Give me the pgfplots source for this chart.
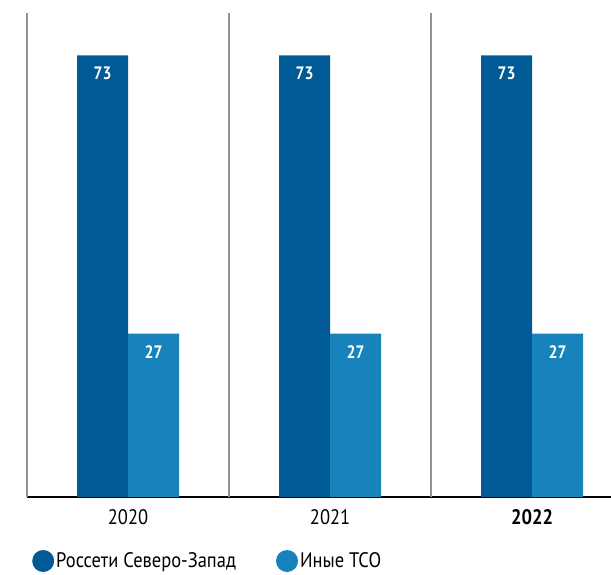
\documentclass[border=0pt]{standalone}
\usepackage{fontspec}
\setmainfont{PT Sans}[FakeStretch=0.88]
\usepackage{pgfplots}
\pgfplotsset{compat=1.18}
\definecolor{rsdark}{RGB}{0,90,150}
\definecolor{rslight}{RGB}{23,130,188}
\begin{document}
\begin{tikzpicture}
\path[use as bounding box] (-27pt,-77pt) rectangle (584pt,497pt);
\begin{axis}[
  at={(0pt,0pt)}, anchor=south west,
  scale only axis,
  width=584pt, height=484pt,
  ybar=0pt, bar width=51pt,
  ymin=0, ymax=80,
  xmin=-0.5, xmax=2.39,
  xtick={0,1,2},
  xticklabels={2020,2021,\textbf{2022}},
  xticklabel style={font=\fontsize{21}{23}\selectfont, yshift=-9pt},
  major tick length=0pt,
  ytick=\empty,
  axis y line=none,
  axis x line*=bottom,
  axis line style={black, line width=1.3pt, -},
  extra x ticks={-0.5,0.5,1.5},
  extra x tick labels={},
  extra x tick style={grid=major, major grid style={gray!85, line width=1.5pt}},
  clip=false,
  /pgf/number format/assume math mode=true,
  nodes near coords,
  every node near coord/.append style={anchor=north, yshift=-8pt, text=white, font=\bfseries\fontsize{18}{20}\selectfont},
  legend columns=2,
  legend style={at={(2pt,-64pt)}, anchor=west, draw=none, fill=none,
    font=\fontsize{21}{23}\selectfont,
    /tikz/every even column/.append style={column sep=38pt}},
  legend image code/.code={\fill (6pt,0pt) circle (11pt);},
]
\addplot[draw=none, fill=rsdark] coordinates {(0,73) (1,73) (2,73)};
\addplot[draw=none, fill=rslight] coordinates {(0,27) (1,27) (2,27)};
\legend{Россети Северо-Запад, Иные ТСО}
\end{axis}
\end{tikzpicture}
\end{document}
